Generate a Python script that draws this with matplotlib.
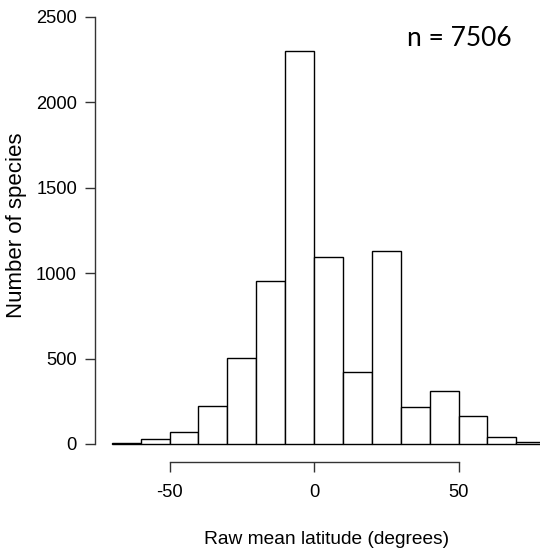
import matplotlib
matplotlib.use("Agg")
import matplotlib.pyplot as plt
import numpy as np

bin_edges = [-70, -60, -50, -40, -30, -20, -10, 0, 10, 20, 30, 40, 50, 60, 70, 80]
counts = [4, 31, 68, 224, 506, 952, 2299, 1093, 420, 1130, 217, 308, 164, 39, 13]
x_ticks = [-50, 0, 50]
y_ticks = [0, 500, 1000, 1500, 2000, 2500]

plt.rcParams['font.family'] = ['Liberation Sans', 'DejaVu Sans']

W, H = 540, 554
fig = plt.figure(figsize=(W / 100, H / 100), dpi=100)
# axes: left at x=95px, right at 540px; bottom at y=462px, top at y=10px
ax = fig.add_axes([95 / W, (H - 462) / H, (540 - 95) / W, (462 - 10) / H])

lefts = np.array(bin_edges[:-1])
widths = np.diff(bin_edges)
ax.bar(lefts, counts, width=widths, align='edge', color='white',
       edgecolor='black', linewidth=1.0, clip_on=True)

px_per_deg = 2.89
ax.set_xlim((95 - 314) / px_per_deg, (540 - 314) / px_per_deg)
px_per_unit = 0.1708
ax.set_ylim(-(462 - 444) / px_per_unit, (444 - 10) / px_per_unit)

for s in ['top', 'right']:
    ax.spines[s].set_visible(False)
ax.spines['left'].set_bounds(0, 2500)
ax.spines['bottom'].set_bounds(-50, 50)
for s in ['left', 'bottom']:
    ax.spines[s].set_color('#333333')
    ax.spines[s].set_linewidth(1.0)

ax.set_xticks(x_ticks)
ax.set_xticklabels([str(v) for v in x_ticks])
ax.set_yticks(y_ticks)
ax.set_yticklabels([str(v) for v in y_ticks])
ax.tick_params(axis='both', length=7, width=1.0, color='#333333', labelsize=13.2, pad=6)
ax.tick_params(axis='x', pad=9)

ax.set_xlabel('Raw mean latitude (degrees)', fontsize=13.8)
ax.xaxis.set_label_coords((327 - 95) / (540 - 95), -(540 - 462) / (462 - 10))
ax.xaxis.label.set_va('center')
ax.set_ylabel('Number of species', fontsize=16)
ax.yaxis.set_label_coords(-(95 - 17) / (540 - 95), (462 - 225) / (462 - 10))
ax.yaxis.label.set_va('center')

fig.text(459 / W, 1 - 38 / H, 'n = 7506', fontsize=19, ha='center', va='center',
         family=['Lato', 'DejaVu Sans'])

fig.savefig('out.png', dpi=100)
